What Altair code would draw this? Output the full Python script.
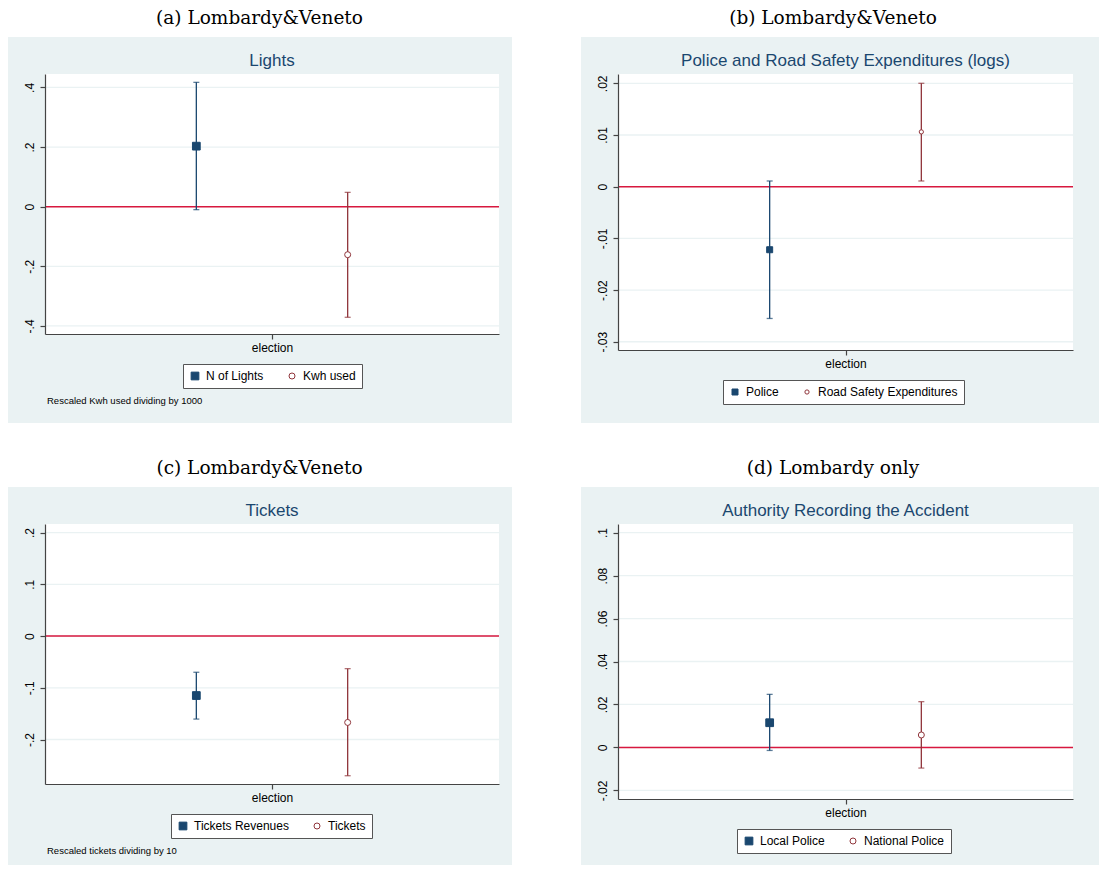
import altair as alt
import pandas as pd

# ---------------- data ----------------
captions = ["(a) Lombardy&Veneto", "(b) Lombardy&Veneto", "(c) Lombardy&Veneto", "(d) Lombardy only"]
titles = ["Lights", "Police and Road Safety Expenditures (logs)", "Tickets", "Authority Recording the Accident"]
series_names = [["N of Lights", "Kwh used"],
                ["Police", "Road Safety Expenditures"],
                ["Tickets Revenues", "Tickets"],
                ["Local Police", "National Police"]]
positions = [1, 2]
x_label = "election"
x_label_pos = 1.5

est_a = [0.203, -0.161]
lo_a = [-0.010, -0.371]
hi_a = [0.417, 0.048]

est_b = [-0.0122, 0.0106]
lo_b = [-0.0255, 0.0011]
hi_b = [0.0011, 0.0200]

est_c = [-0.115, -0.167]
lo_c = [-0.1605, -0.270]
hi_c = [-0.070, -0.063]

est_d = [0.0115, 0.0058]
lo_d = [-0.0014, -0.0096]
hi_d = [0.0247, 0.0213]

ticks_a = [-0.4, -0.2, 0, 0.2, 0.4]
tick_labels_a = ["-.4", "-.2", "0", ".2", ".4"]
ticks_b = [-0.03, -0.02, -0.01, 0, 0.01, 0.02]
tick_labels_b = ["-.03", "-.02", "-.01", "0", ".01", ".02"]
ticks_c = [-0.2, -0.1, 0, 0.1, 0.2]
tick_labels_c = ["-.2", "-.1", "0", ".1", ".2"]
ticks_d = [-0.02, 0, 0.02, 0.04, 0.06, 0.08, 0.1]
tick_labels_d = ["-.02", "0", ".02", ".04", ".06", ".08", ".1"]

y_domain_a = [-0.427, 0.445]
y_domain_b = [-0.0316, 0.0218]
y_domain_c = [-0.286, 0.2166]
y_domain_d = [-0.024, 0.104]

notes = ["Rescaled Kwh used dividing by 1000", "", "Rescaled tickets dividing by 10", ""]

# ---------------- style ----------------
BG = "#EAF2F3"
GRID = "#EAF2F3"
NAVY = "#1A476F"
MAROON = "#90353B"
RED = "#D8183F"
AXIS = "#444444"
SANS = "Liberation Sans"
SERIF = "DejaVu Serif"


def label_expr(vals, labs):
    expr = "''"
    for v, l in reversed(list(zip(vals, labs))):
        expr = f"abs(datum.value - ({v})) < 1e-9 ? '{l}' : ({expr})"
    return expr


def panel(i, est, lo, hi, ticks, tick_labels, ydom, w, h, bgx2, bgy2, lx, ly,
          msizes, legsym):
    names = series_names[i]
    df = pd.DataFrame({"series": names, "pos": positions, "est": est, "lo": lo, "hi": hi})
    one = pd.DataFrame({"k": [0]})

    yscale = alt.Scale(domain=ydom, nice=False, zero=False)
    xscale = alt.Scale(domain=[0, 3], nice=False, zero=False)
    yaxis = alt.Axis(values=ticks, labelExpr=label_expr(ticks, tick_labels), title=None,
                     grid=False, labelAngle=270, labelAlign="center", labelBaseline="bottom",
                     labelPadding=4, tickSize=5, labelFlush=False, labelOverlap=False,
                     zindex=1)
    xaxis = alt.Axis(values=[x_label_pos], labelExpr=f"'{x_label}'", title=None, grid=False,
                     labelPadding=3, tickSize=5, labelFlush=False, labelOverlap=False,
                     zindex=1)

    def X(f):
        return alt.X(f, type="quantitative", scale=xscale, axis=xaxis)

    def Y(f):
        return alt.Y(f, type="quantitative", scale=yscale, axis=yaxis)

    col = alt.condition(alt.datum.series == names[0], alt.value(NAVY), alt.value(MAROON))

    leg = alt.Legend(orient="none", legendX=lx, legendY=ly, direction="horizontal", title=None,
                     fillColor="white", strokeColor="#555555", padding=6, labelFontSize=12,
                     labelFont=SANS, labelColor="black", symbolSize=legsym, columnPadding=22,
                     labelOffset=5, symbolStrokeWidth=1)

    layers = []
    layers.append(alt.Chart(one).mark_rect(color=BG).encode(
        x=alt.value(-37), x2=alt.value(bgx2), y=alt.value(-37), y2=alt.value(bgy2)))
    layers.append(alt.Chart(one).mark_rect(color="white").encode(
        x=alt.value(0), x2=alt.value(w), y=alt.value(0), y2=alt.value(h)))
    layers.append(alt.Chart(pd.DataFrame({"t": ticks})).mark_rule(
        color=GRID, strokeWidth=1.3).encode(y=Y("t")))
    layers.append(alt.Chart(pd.DataFrame({"z": [0]})).mark_rule(
        color=RED, strokeWidth=1.5).encode(y=Y("z")))
    layers.append(alt.Chart(df).mark_rule(strokeWidth=1.3).encode(
        x=X("pos"), y=Y("lo"), y2="hi:Q", color=col))
    layers.append(alt.Chart(df).transform_fold(["lo", "hi"], as_=["end", "v"]).mark_tick(
        orient="horizontal", size=6, thickness=1.3).encode(x=X("pos"), y=Y("v"), color=col))
    layers.append(alt.Chart(df).mark_point(strokeWidth=1, opacity=1).encode(
        x=X("pos"), y=Y("est"),
        shape=alt.Shape("series:N", scale=alt.Scale(domain=names, range=["square", "circle"]), legend=leg),
        color=alt.Color("series:N", scale=alt.Scale(domain=names, range=[NAVY, MAROON]), legend=leg),
        fill=alt.Fill("series:N", scale=alt.Scale(domain=names, range=[NAVY, "white"]), legend=leg),
        size=alt.Size("series:N", scale=alt.Scale(type="point", domain=names, range=msizes, padding=0),
                      legend=None)))
    layers.append(alt.Chart(pd.DataFrame({"t": [titles[i]]})).mark_text(
        font=SANS, fontSize=17, color=NAVY, align="center", baseline="middle").encode(
        x=alt.value(w / 2), y=alt.value(-13), text="t:N"))
    if notes[i]:
        layers.append(alt.Chart(pd.DataFrame({"t": [notes[i]]})).mark_text(
            font=SANS, fontSize=9.5, color="black", align="left", baseline="middle").encode(
            x=alt.value(2), y=alt.value(327), text="t:N"))

    return alt.layer(*layers).properties(
        width=w, height=h,
        title=alt.TitleParams(captions[i], font=SERIF, fontSize=18.5, fontWeight="normal",
                              color="black", anchor="middle", offset=10, dx=-12.5))


pa = panel(0, est_a, lo_a, hi_a, ticks_a, tick_labels_a, y_domain_a, 454, 260, 467, 349, 138, 290, [60, 36], 40)
pb = panel(1, est_b, lo_b, hi_b, ticks_b, tick_labels_b, y_domain_b, 455, 276, 481, 349, 105, 306, [36, 18], 22)
pc = panel(2, est_c, lo_c, hi_c, ticks_c, tick_labels_c, y_domain_c, 454, 260, 467, 341, 126, 290, [60, 36], 40)
pd_ = panel(3, est_d, lo_d, hi_d, ticks_d, tick_labels_d, y_domain_d, 455, 275, 481, 341, 119, 305, [60, 36], 40)


def ind(c):
    return c.resolve_scale(x="independent", y="independent", color="independent",
                           fill="independent", shape="independent", size="independent") \
            .resolve_legend(color="independent", fill="independent", shape="independent",
                            size="independent")


row1 = ind(alt.hconcat(pa, pb, spacing=69))
row2 = ind(alt.hconcat(pc, pd_, spacing=69))
chart = ind(alt.vconcat(row1, row2, spacing=35)).properties(padding=0, background="white")
chart = chart.configure_view(strokeWidth=0).configure_axis(
    labelFont=SANS, labelFontSize=12, labelColor="black", domainColor=AXIS, tickColor=AXIS,
    domainWidth=1.2, tickWidth=1.2)

chart.save("out.html", embed_options={"renderer": "svg", "actions": False})
